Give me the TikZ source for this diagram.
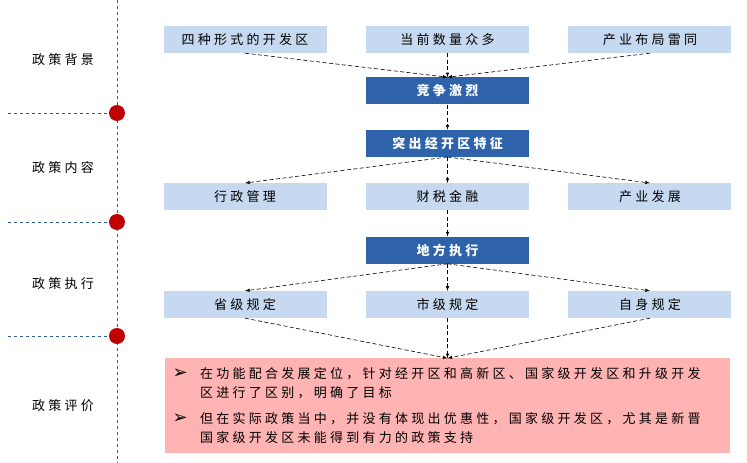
\documentclass[tikz,border=0pt]{standalone}
\usepackage{fontspec}
\newfontfamily\cjk[LetterSpace=25]{Noto Sans CJK SC}
\newfontfamily\sym{DejaVu Sans}
\usetikzlibrary{positioning}
\definecolor{lightbox}{HTML}{C6D9F0}
\definecolor{darkbox}{HTML}{2E62AA}
\definecolor{pinkbox}{HTML}{FFB3B3}
\definecolor{dotred}{HTML}{C00000}
\definecolor{timeline}{HTML}{2F5F8F}
\begin{document}
\begin{tikzpicture}[x=1pt,y=-1pt,
    every node/.style={font=\cjk\fontsize{13}{19}\selectfont},
    light/.style={fill=lightbox,minimum width=163pt,minimum height=27pt,inner sep=0pt},
    dark/.style={light,fill=darkbox,text=white,font=\cjk\bfseries\fontsize{13}{19}\selectfont},
    flow/.style={-latex,semithick,dash pattern=on 4pt off 2.5pt},
    time/.style={timeline,dashed,thin},
    dot/.style={circle,fill=dotred,minimum size=16pt,inner sep=0pt}]
    \useasboundingbox (0,0) rectangle (747,463);

    % timeline
    \coordinate (top) at (117,0);
    \coordinate (bot) at (117,463);
    \draw[time] (top) -- (bot);
    \foreach \y/\n in {113/1,222/2,336/3}{
        \coordinate (l\n) at (8,\y);
        \draw[time] (l\n) -- (117,\y);
        \node[dot] (t\n) at (117,\y) {};
    }
    \node (s1) at (63,60) {政策背景};
    \node (s2) at (63,168) {政策内容};
    \node (s3) at (63,284) {政策执行};
    \node (s4) at (63,406) {政策评价};

    % flow
    \node[light] (a) at (447.5,39.5) {当前数量众多};
    \node[light] (a1) [left=39pt of a] {四种形式的开发区};
    \node[light] (a2) [right=39pt of a] {产业布局雷同};
    \node[dark] (b) [below=24pt of a] {竞争激烈};
    \node[dark] (c) [below=25pt of b] {突出经开区特征};
    \node[light] (d) [below=26pt of c] {财税金融};
    \node[light] (d1) [left=39pt of d] {行政管理};
    \node[light] (d2) [right=39pt of d] {产业发展};
    \node[dark] (e) [below=26pt of d] {地方执行};
    \node[light] (f) [below=27pt of e] {市级规定};
    \node[light] (f1) [left=39pt of f] {省级规定};
    \node[light] (f2) [right=39pt of f] {自身规定};
    \node[fill=pinkbox,minimum height=95pt,text width=550pt,inner xsep=7.5pt,align=left] (g) [below=40pt of f]
        {\makebox[27.5pt][l]{\sym\fontsize{18}{19}\selectfont ➢}在功能配合发展定位，针对经开区和高新区、国家级开发区和升级开发\\
         \hspace*{27.5pt}区进行了区别，明确了目标\\[7pt]
         \makebox[27.5pt][l]{\sym\fontsize{18}{19}\selectfont ➢}但在实际政策当中，并没有体现出优惠性，国家级开发区，尤其是新晋\\
         \hspace*{27.5pt}国家级开发区未能得到有力的政策支持};

    \path[flow]
    (a1.south) edge (b.north)
    (a.south) edge (b.north)
    (a2.south) edge (b.north)
    (b) edge (c)
    (c.south) edge (d1.north)
    (c.south) edge (d.north)
    (c.south) edge (d2.north)
    (d) edge (e)
    (e.south) edge (f1.north)
    (e.south) edge (f.north)
    (e.south) edge (f2.north)
    (f1.south) edge (g.north)
    (f.south) edge (g.north)
    (f2.south) edge (g.north);
\end{tikzpicture}
\end{document}
